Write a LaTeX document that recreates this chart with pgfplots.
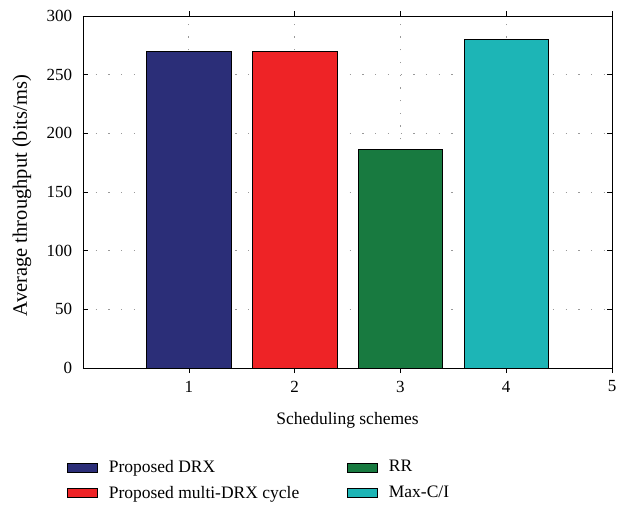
\documentclass[border=0pt]{standalone}
\usepackage{fontspec}
\setmainfont{Liberation Serif}
\usepackage{pgfplots}
\pgfplotsset{compat=1.18}

\definecolor{cDRX}{HTML}{2B2E78}
\definecolor{cMulti}{HTML}{EE2326}
\definecolor{cRR}{HTML}{187A40}
\definecolor{cMax}{HTML}{1DB5B6}

\newcommand{\chartfont}{\fontsize{17bp}{20bp}\selectfont}
\newcommand{\labelfont}{\fontsize{17.5bp}{21bp}\selectfont}

\begin{document}
\chartfont
\begin{tikzpicture}
\begin{axis}[
  scale only axis,
  width=529bp, height=352bp,
  xmin=0, xmax=5, ymin=0, ymax=300,
  xtick={1,2,3,4,5},
  ytick={0,50,...,300},
  tick align=inside,
  major tick length=5bp,
  tick style={black, line width=0.6pt},
  axis line style={black, line width=0.8pt},
  grid=major,
  major grid style={gray!80, line width=1pt, dash pattern=on 1.3bp off 11.4bp},
  /pgf/number format/assume math mode=true,
  ticklabel style={font=\chartfont},
  xticklabel style={yshift=-2bp},
  yticklabel style={xshift=-5bp},
  label style={font=\labelfont},
  xlabel={Scheduling schemes},
  ylabel={Average throughput (bits/ms)},
  xlabel style={at={(axis description cs:0.5,0)}, anchor=center, yshift=-52bp},
  ylabel style={at={(axis description cs:-0.1153,0.49)}, anchor=center,
    font=\fontsize{20.5bp}{24bp}\selectfont},
  ybar, bar width=0.8, bar shift=0pt,
  legend columns=2,
  transpose legend,
  legend cell align=left,
  legend style={
    at={(axis description cs:0,0)}, anchor=north west,
    xshift=-19bp, yshift=-88bp,
    draw=none, fill=none,
    font=\labelfont,
    row sep=7bp,
    /tikz/every odd column/.append style={column sep=9bp},
    /tikz/every even column/.append style={column sep=46bp},
  },
  legend image code/.code={%
    \draw[#1, draw=black, line width=0.6pt] (0bp,-4.5bp) rectangle (30bp,4.5bp);
  },
]
\addplot[fill=cDRX, draw=black, line width=0.6pt] coordinates {(1,270)};
\addlegendentry{Proposed DRX}
\addplot[fill=cMulti, draw=black, line width=0.6pt] coordinates {(2,270)};
\addlegendentry{Proposed multi-DRX cycle}
\addplot[fill=cRR, draw=black, line width=0.6pt] coordinates {(3,186)};
\addlegendentry{RR}
\addplot[fill=cMax, draw=black, line width=0.6pt] coordinates {(4,280)};
\addlegendentry{Max-C/I}
\coordinate (sw) at (rel axis cs:0,0);
\coordinate (ne) at (rel axis cs:1,1);
\end{axis}
\pgfresetboundingbox
\path[use as bounding box] ([xshift=-83bp,yshift=-137bp]sw) rectangle ([xshift=19bp,yshift=16bp]ne);
\end{tikzpicture}
\end{document}
